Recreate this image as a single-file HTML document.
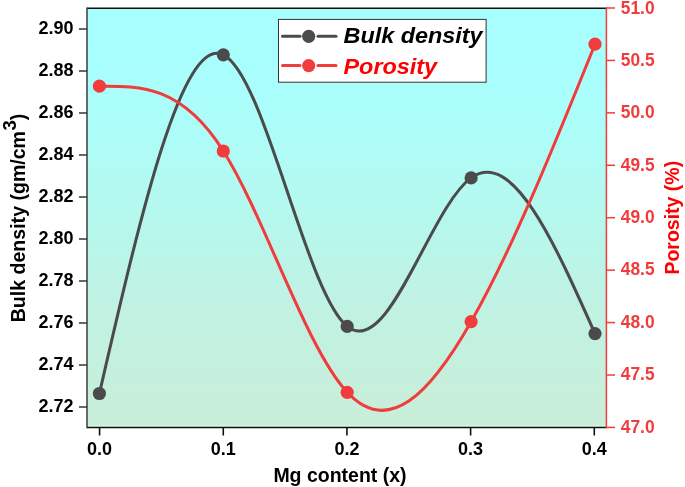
<!DOCTYPE html>
<html><head><meta charset="utf-8"><title>Bulk density and Porosity vs Mg content</title>
<style>html,body{margin:0;padding:0;background:#fff;}svg{display:block;}</style>
</head><body>
<svg width="685" height="487" viewBox="0 0 685 487">
<defs><linearGradient id="bg" x1="0" y1="0" x2="0" y2="1"><stop offset="0" stop-color="rgb(166,255,255)"/><stop offset="0.22" stop-color="rgb(170,254,251)"/><stop offset="0.34" stop-color="rgb(175,252,246)"/><stop offset="0.49" stop-color="rgb(181,248,238)"/><stop offset="0.70" stop-color="rgb(192,242,227)"/><stop offset="1" stop-color="rgb(201,238,217)"/></linearGradient></defs>
<rect x="0" y="0" width="685" height="487" fill="#fff"/>
<rect x="87.0" y="8.0" width="519.4" height="419.5" fill="url(#bg)"/>
<path d="M99.40,393.50 C140.70,214.30 182.00,35.09 223.30,54.80 C264.60,74.51 305.90,293.13 347.20,326.40 C388.50,359.67 429.80,207.59 471.10,177.90 C512.40,148.21 553.70,240.90 595.00,333.60" fill="none" stroke="#4b4b4b" stroke-width="3.0"/>
<path d="M99.40,86.20 C140.70,85.85 182.00,85.49 223.30,151.00 C264.60,216.51 305.90,347.88 347.20,392.30 C388.50,436.72 429.80,394.21 471.10,321.70 C512.40,249.19 553.70,146.70 595.00,44.20" fill="none" stroke="#f03c3c" stroke-width="3.0"/>
<circle cx="99.40" cy="393.50" r="6.6" fill="#4b4b4b"/>
<circle cx="223.30" cy="54.80" r="6.6" fill="#4b4b4b"/>
<circle cx="347.20" cy="326.40" r="6.6" fill="#4b4b4b"/>
<circle cx="471.10" cy="177.90" r="6.6" fill="#4b4b4b"/>
<circle cx="595.00" cy="333.60" r="6.6" fill="#4b4b4b"/>
<circle cx="99.40" cy="86.20" r="6.6" fill="#f03c3c"/>
<circle cx="223.30" cy="151.00" r="6.6" fill="#f03c3c"/>
<circle cx="347.20" cy="392.30" r="6.6" fill="#f03c3c"/>
<circle cx="471.10" cy="321.70" r="6.6" fill="#f03c3c"/>
<circle cx="595.00" cy="44.20" r="6.6" fill="#f03c3c"/>
<line x1="87.0" y1="425.6" x2="606.4" y2="425.6" stroke="#d4f8e4" stroke-width="1.2"/>
<line x1="87.0" y1="8.2" x2="606.4" y2="8.2" stroke="#111" stroke-width="1.5"/>
<line x1="87.0" y1="427.5" x2="606.4" y2="427.5" stroke="#111" stroke-width="1.5"/>
<line x1="87.0" y1="7.5" x2="87.0" y2="428.2" stroke="#3c3c3c" stroke-width="1.5"/>
<line x1="606.4" y1="7.5" x2="606.4" y2="428.2" stroke="#f03c3c" stroke-width="1.5"/>
<line x1="79" y1="29" x2="87.0" y2="29" stroke="#333" stroke-width="1.5"/>
<text x="73.6" y="34.4" text-anchor="end" font-size="18" font-family="'Liberation Sans', Arial, sans-serif" font-weight="bold" fill="#000">2.90</text>
<line x1="79" y1="71" x2="87.0" y2="71" stroke="#333" stroke-width="1.5"/>
<text x="73.6" y="76.4" text-anchor="end" font-size="18" font-family="'Liberation Sans', Arial, sans-serif" font-weight="bold" fill="#000">2.88</text>
<line x1="79" y1="113" x2="87.0" y2="113" stroke="#333" stroke-width="1.5"/>
<text x="73.6" y="118.4" text-anchor="end" font-size="18" font-family="'Liberation Sans', Arial, sans-serif" font-weight="bold" fill="#000">2.86</text>
<line x1="79" y1="155" x2="87.0" y2="155" stroke="#333" stroke-width="1.5"/>
<text x="73.6" y="160.4" text-anchor="end" font-size="18" font-family="'Liberation Sans', Arial, sans-serif" font-weight="bold" fill="#000">2.84</text>
<line x1="79" y1="197" x2="87.0" y2="197" stroke="#333" stroke-width="1.5"/>
<text x="73.6" y="202.4" text-anchor="end" font-size="18" font-family="'Liberation Sans', Arial, sans-serif" font-weight="bold" fill="#000">2.82</text>
<line x1="79" y1="239" x2="87.0" y2="239" stroke="#333" stroke-width="1.5"/>
<text x="73.6" y="244.4" text-anchor="end" font-size="18" font-family="'Liberation Sans', Arial, sans-serif" font-weight="bold" fill="#000">2.80</text>
<line x1="79" y1="281" x2="87.0" y2="281" stroke="#333" stroke-width="1.5"/>
<text x="73.6" y="286.4" text-anchor="end" font-size="18" font-family="'Liberation Sans', Arial, sans-serif" font-weight="bold" fill="#000">2.78</text>
<line x1="79" y1="323" x2="87.0" y2="323" stroke="#333" stroke-width="1.5"/>
<text x="73.6" y="328.4" text-anchor="end" font-size="18" font-family="'Liberation Sans', Arial, sans-serif" font-weight="bold" fill="#000">2.76</text>
<line x1="79" y1="365" x2="87.0" y2="365" stroke="#333" stroke-width="1.5"/>
<text x="73.6" y="370.4" text-anchor="end" font-size="18" font-family="'Liberation Sans', Arial, sans-serif" font-weight="bold" fill="#000">2.74</text>
<line x1="79" y1="407" x2="87.0" y2="407" stroke="#333" stroke-width="1.5"/>
<text x="73.6" y="412.4" text-anchor="end" font-size="18" font-family="'Liberation Sans', Arial, sans-serif" font-weight="bold" fill="#000">2.72</text>
<line x1="606.4" y1="8.00" x2="615" y2="8.00" stroke="#f03c3c" stroke-width="1.5"/>
<text transform="translate(620.8,14.2) scale(0.965,1)" x="0" y="0" font-size="18" font-family="'Liberation Sans', Arial, sans-serif" font-weight="bold" fill="#f03c3c">51.0</text>
<line x1="606.4" y1="60.43" x2="615" y2="60.43" stroke="#f03c3c" stroke-width="1.5"/>
<text transform="translate(620.8,65.6) scale(0.965,1)" x="0" y="0" font-size="18" font-family="'Liberation Sans', Arial, sans-serif" font-weight="bold" fill="#f03c3c">50.5</text>
<line x1="606.4" y1="112.86" x2="615" y2="112.86" stroke="#f03c3c" stroke-width="1.5"/>
<text transform="translate(620.8,118.1) scale(0.965,1)" x="0" y="0" font-size="18" font-family="'Liberation Sans', Arial, sans-serif" font-weight="bold" fill="#f03c3c">50.0</text>
<line x1="606.4" y1="165.29" x2="615" y2="165.29" stroke="#f03c3c" stroke-width="1.5"/>
<text transform="translate(620.8,170.5) scale(0.965,1)" x="0" y="0" font-size="18" font-family="'Liberation Sans', Arial, sans-serif" font-weight="bold" fill="#f03c3c">49.5</text>
<line x1="606.4" y1="217.72" x2="615" y2="217.72" stroke="#f03c3c" stroke-width="1.5"/>
<text transform="translate(620.8,222.9) scale(0.965,1)" x="0" y="0" font-size="18" font-family="'Liberation Sans', Arial, sans-serif" font-weight="bold" fill="#f03c3c">49.0</text>
<line x1="606.4" y1="270.15" x2="615" y2="270.15" stroke="#f03c3c" stroke-width="1.5"/>
<text transform="translate(620.8,275.3) scale(0.965,1)" x="0" y="0" font-size="18" font-family="'Liberation Sans', Arial, sans-serif" font-weight="bold" fill="#f03c3c">48.5</text>
<line x1="606.4" y1="322.58" x2="615" y2="322.58" stroke="#f03c3c" stroke-width="1.5"/>
<text transform="translate(620.8,327.8) scale(0.965,1)" x="0" y="0" font-size="18" font-family="'Liberation Sans', Arial, sans-serif" font-weight="bold" fill="#f03c3c">48.0</text>
<line x1="606.4" y1="375.01" x2="615" y2="375.01" stroke="#f03c3c" stroke-width="1.5"/>
<text transform="translate(620.8,380.2) scale(0.965,1)" x="0" y="0" font-size="18" font-family="'Liberation Sans', Arial, sans-serif" font-weight="bold" fill="#f03c3c">47.5</text>
<line x1="606.4" y1="427.44" x2="615" y2="427.44" stroke="#f03c3c" stroke-width="1.5"/>
<text transform="translate(620.8,432.6) scale(0.965,1)" x="0" y="0" font-size="18" font-family="'Liberation Sans', Arial, sans-serif" font-weight="bold" fill="#f03c3c">47.0</text>
<line x1="99.60" y1="427.5" x2="99.60" y2="435.5" stroke="#111" stroke-width="1.6"/>
<text x="99.60" y="455.2" text-anchor="middle" font-size="18" font-family="'Liberation Sans', Arial, sans-serif" font-weight="bold" fill="#000">0.0</text>
<line x1="223.27" y1="427.5" x2="223.27" y2="435.5" stroke="#111" stroke-width="1.6"/>
<text x="223.27" y="455.2" text-anchor="middle" font-size="18" font-family="'Liberation Sans', Arial, sans-serif" font-weight="bold" fill="#000">0.1</text>
<line x1="346.94" y1="427.5" x2="346.94" y2="435.5" stroke="#111" stroke-width="1.6"/>
<text x="346.94" y="455.2" text-anchor="middle" font-size="18" font-family="'Liberation Sans', Arial, sans-serif" font-weight="bold" fill="#000">0.2</text>
<line x1="470.61" y1="427.5" x2="470.61" y2="435.5" stroke="#111" stroke-width="1.6"/>
<text x="470.61" y="455.2" text-anchor="middle" font-size="18" font-family="'Liberation Sans', Arial, sans-serif" font-weight="bold" fill="#000">0.3</text>
<line x1="594.28" y1="427.5" x2="594.28" y2="435.5" stroke="#111" stroke-width="1.6"/>
<text x="594.28" y="455.2" text-anchor="middle" font-size="18" font-family="'Liberation Sans', Arial, sans-serif" font-weight="bold" fill="#000">0.4</text>
<text x="340" y="481.5" text-anchor="middle" font-size="19.5" font-family="'Liberation Sans', Arial, sans-serif" font-weight="bold" fill="#000">Mg content (x)</text>
<text transform="translate(24.8,322.3) rotate(-90)" x="0" y="0" font-size="19.57" font-family="'Liberation Sans', Arial, sans-serif" font-weight="bold" fill="#000">Bulk density (gm/cm<tspan dx="0.4" dy="-9.2" font-size="18.6">3</tspan><tspan dy="9.2">)</tspan></text>
<text transform="translate(679.3,274.6) rotate(-90)" x="0" y="0" font-size="19.5" font-family="'Liberation Sans', Arial, sans-serif" font-weight="bold" fill="#ff0000">Porosity (%)</text>
<rect x="278.5" y="19.4" width="207.6" height="62.8" fill="#fff" stroke="#333" stroke-width="1"/>
<line x1="282.5" y1="36.3" x2="300" y2="36.3" stroke="#4b4b4b" stroke-width="3.0" stroke-linecap="round"/>
<line x1="318" y1="36.3" x2="336" y2="36.3" stroke="#4b4b4b" stroke-width="3.0" stroke-linecap="round"/>
<circle cx="308.7" cy="36.3" r="6.6" fill="#4b4b4b"/>
<line x1="282.5" y1="65.6" x2="300" y2="65.6" stroke="#f03c3c" stroke-width="3.0" stroke-linecap="round"/>
<line x1="318" y1="65.6" x2="336" y2="65.6" stroke="#f03c3c" stroke-width="3.0" stroke-linecap="round"/>
<circle cx="308.7" cy="65.6" r="6.6" fill="#f03c3c"/>
<text transform="translate(343.5,43.3) scale(1.04,1)" x="0" y="0" font-size="22.5" font-style="italic" font-family="'Liberation Sans', Arial, sans-serif" font-weight="bold" fill="#000">Bulk density</text>
<text transform="translate(343.5,73.6) scale(1.04,1)" x="0" y="0" font-size="22.5" font-style="italic" font-family="'Liberation Sans', Arial, sans-serif" font-weight="bold" fill="#ff0000">Porosity</text>
</svg>
</body></html>
